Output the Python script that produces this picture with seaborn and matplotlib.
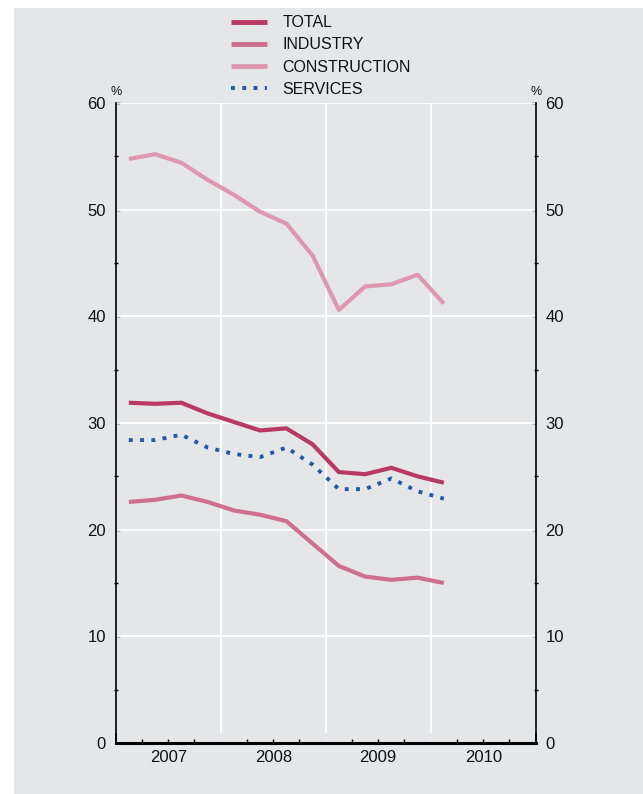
import numpy as np
import pandas as pd
import matplotlib
matplotlib.use("Agg")
import matplotlib.pyplot as plt
import seaborn as sns
from matplotlib.patches import Rectangle
from matplotlib.lines import Line2D

# Quarterly shares (%), 2007Q1 - 2010Q1
quarters = ["2007Q1", "2007Q2", "2007Q3", "2007Q4",
            "2008Q1", "2008Q2", "2008Q3", "2008Q4",
            "2009Q1", "2009Q2", "2009Q3", "2009Q4",
            "2010Q1"]
total = [31.9, 31.8, 31.9, 30.9, 30.1, 29.3, 29.5, 28.0, 25.4, 25.2, 25.8, 25.0, 24.4]
industry = [22.6, 22.8, 23.2, 22.6, 21.8, 21.4, 20.8, 18.7, 16.6, 15.6, 15.3, 15.5, 15.0]
construction = [54.75, 55.2, 54.4, 52.8, 51.4, 49.8, 48.7, 45.7, 40.6, 42.8, 43.0, 43.9, 41.2]
services = [28.4, 28.4, 28.9, 27.7, 27.1, 26.8, 27.7, 26.1, 23.8, 23.8, 24.8, 23.6, 22.9]
year_labels = ["2007", "2008", "2009", "2010"]

series_names = ["TOTAL", "INDUSTRY", "CONSTRUCTION", "SERVICES"]
colors = {"TOTAL": "#b83a62", "INDUSTRY": "#cf6f8e", "CONSTRUCTION": "#de97ae",
          "SERVICES": "#2258a6"}

BG = "#e5e6e8"

def quarter_pos(q):
    year, qn = int(q[:4]), int(q[-1])
    return year + (qn - 0.5) / 4

x = [quarter_pos(q) for q in quarters]
df = pd.DataFrame({
    "x": x * 4,
    "value": total + industry + construction + services,
    "series": sum([[n] * len(x) for n in series_names], []),
})

sns.set_theme(style="white")
plt.rcParams["font.family"] = ["Liberation Sans", "DejaVu Sans"]

fig = plt.figure(figsize=(6.43, 7.94), dpi=100)
fig.patch.set_facecolor("white")
fig.patches.append(Rectangle((14 / 643, 0), 1 - 14 / 643, 1 - 8 / 794,
                             transform=fig.transFigure, facecolor=BG,
                             edgecolor="none", zorder=-10))

ax = fig.add_axes([115.7 / 643, 1 - 743 / 794, 420 / 643, 640 / 794])
ax.set_facecolor(BG)

for name in series_names:
    sub = df[df["series"] == name]
    if name == "SERVICES":
        sns.lineplot(data=sub, x="x", y="value", ax=ax, color=colors[name],
                     linewidth=2.8, linestyle=(0, (1, 1.9)),
                     dash_capstyle="butt", zorder=3)
    else:
        sns.lineplot(data=sub, x="x", y="value", ax=ax, color=colors[name],
                     linewidth=3.0, solid_capstyle="butt", zorder=3)

ax.set_xlim(2007, 2011)
ax.set_ylim(0, 60)
ax.set_xlabel("")
ax.set_ylabel("")

# gridlines
for yv in range(10, 61, 10):
    ax.axhline(yv, color="white", lw=1.3, zorder=1)
for xv in (2008, 2009, 2010):
    ax.axvline(xv, color="white", lw=1.3, zorder=1)

# x ticks: year boundaries (major), quarters (minor, carrying the year labels)
ax.set_xticks([2007, 2008, 2009, 2010, 2011])
ax.set_xticklabels([])
minor_x = [y + q / 4 for y in range(2007, 2011) for q in (1, 2, 3)]
minor_lbl = []
for y in range(2007, 2011):
    minor_lbl += ["", year_labels[y - 2007], ""]
ax.set_xticks(minor_x, minor=True)
ax.set_xticklabels(minor_lbl, minor=True)
ax.tick_params(axis="x", which="major", direction="in", length=7, width=1.2,
               color="black", bottom=True)
ax.tick_params(axis="x", which="minor", direction="in", length=3, width=1.0,
               color="black", bottom=True, labelsize=12, pad=5,
               labelcolor="#111111")

# y ticks on both sides
ax.set_yticks(range(0, 61, 10))
ax.set_yticks(range(5, 60, 10), minor=True)
ax.tick_params(axis="y", which="major", direction="in", length=3, width=1.0,
               color="black", left=True, right=True, labelleft=True,
               labelright=True, labelsize=12, pad=7, labelcolor="#111111")
ax.tick_params(axis="y", which="minor", direction="inout", length=3, width=1.0,
               color="black", left=True, right=True)

for side in ("left", "right"):
    ax.spines[side].set_visible(True)
    ax.spines[side].set_color("black")
    ax.spines[side].set_linewidth(1.2)
ax.spines["bottom"].set_color("black")
ax.spines["bottom"].set_linewidth(2.2)
ax.spines["top"].set_visible(False)

# unit markers
ax.text(0, 1.008, "%", transform=ax.transAxes, ha="center", va="bottom",
        fontsize=9, color="#111111")
ax.text(1, 1.008, "%", transform=ax.transAxes, ha="center", va="bottom",
        fontsize=9, color="#111111")

if ax.get_legend() is not None:
    ax.get_legend().remove()

handles = []
for name in series_names:
    if name == "SERVICES":
        handles.append(Line2D([], [], color=colors[name], lw=2.8,
                              linestyle=(0, (1, 1.9)), dash_capstyle="butt"))
    else:
        handles.append(Line2D([], [], color=colors[name], lw=3.5,
                              solid_capstyle="butt"))
fig.legend(handles, series_names, loc="upper left",
           bbox_to_anchor=(228 / 643, 1 - 12 / 794), frameon=False,
           fontsize=11.5, handlelength=2.25, handletextpad=0.95,
           labelspacing=0.45, borderaxespad=0, borderpad=0.2,
           labelcolor="#111111")

fig.savefig("out.png", dpi=100, facecolor="white")
